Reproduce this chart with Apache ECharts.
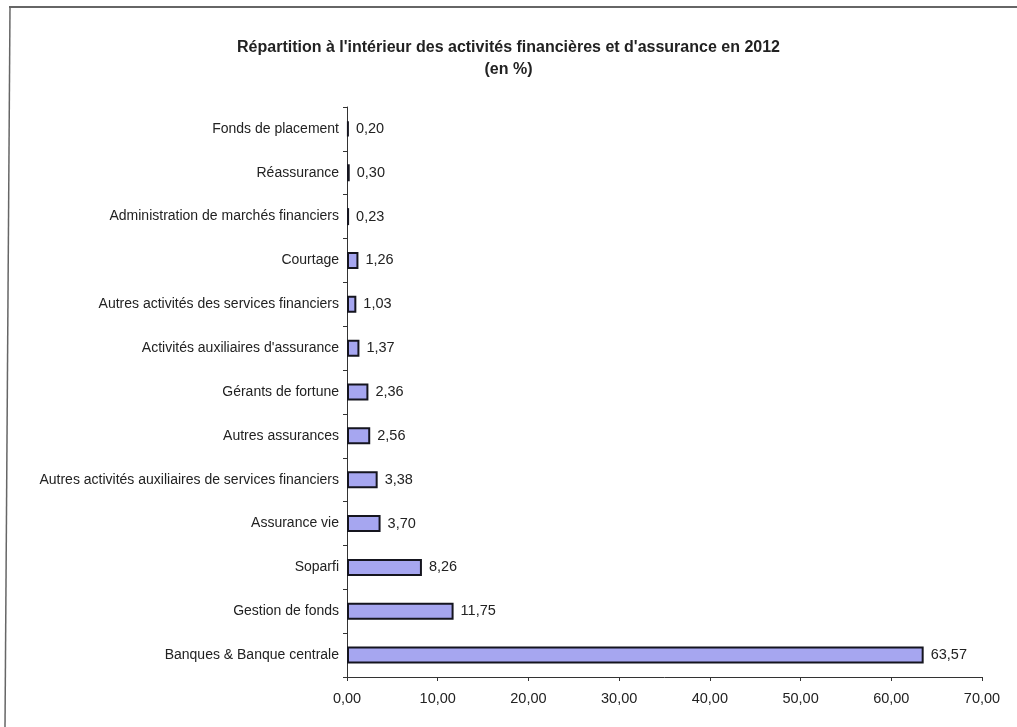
<!DOCTYPE html>
<html>
<head>
<meta charset="utf-8">
<script src="https://cdn.jsdelivr.net/npm/echarts@6/dist/echarts.min.js"></script>
<style>
html,body{margin:0;padding:0;background:#fff;}
#c{width:1017px;height:727px;}
</style>
</head>
<body>
<div id="c"></div>
<script>
const categories = [
  "Fonds de placement",
  "Réassurance",
  "Administration de marchés financiers",
  "Courtage",
  "Autres activités des services financiers",
  "Activités auxiliaires d'assurance",
  "Gérants de fortune",
  "Autres assurances",
  "Autres activités auxiliaires de services financiers",
  "Assurance vie",
  "Soparfi",
  "Gestion de fonds",
  "Banques & Banque centrale"
];
const values = [0.20, 0.30, 0.23, 1.26, 1.03, 1.37, 2.36, 2.56, 3.38, 3.70, 8.26, 11.75, 63.57];
const titleLines = ["Répartition à l'intérieur des activités financières et d'assurance en 2012", "(en %)"];

const fmt = v => v.toFixed(2).replace('.', ',');
const font = "'Liberation Sans', Arial, sans-serif";

const chart = echarts.init(document.getElementById('c'), null, {renderer: 'canvas'});
chart.setOption({
  animation: false,
  backgroundColor: '#fff',
  title: {
    text: titleLines.join('\n'),
    left: 'center',
    top: 32,
    textStyle: {fontFamily: font, fontSize: 16, fontWeight: 'bold', color: '#222', lineHeight: 22}
  },
  grid: {left: 347, right: 35, top: 107, bottom: 50, containLabel: false},
  xAxis: {
    type: 'value',
    min: 0, max: 70, interval: 10,
    axisLine: {show: true, lineStyle: {color: '#333', width: 1}},
    axisTick: {show: true, length: 4, lineStyle: {color: '#333'}},
    splitLine: {show: false},
    axisLabel: {fontFamily: font, fontSize: 14.5, color: '#222', margin: 14, formatter: v => fmt(v)}
  },
  yAxis: {
    type: 'category',
    data: categories,
    inverse: true,
    axisLine: {show: true, lineStyle: {color: '#333', width: 1}},
    axisTick: {show: true, length: 4, lineStyle: {color: '#333'}},
    axisLabel: {fontFamily: font, fontSize: 14, color: '#222', margin: 8}
  },
  series: [{
    type: 'bar',
    data: values,
    barWidth: 17,
    itemStyle: {color: '#a6a6f0', borderColor: '#15151f', borderWidth: 2},
    label: {
      show: true, position: 'right', distance: 7,
      fontFamily: font, fontSize: 14.5, color: '#222',
      formatter: p => fmt(p.value)
    }
  }],
  graphic: [
    {type: 'line', shape: {x1: 9, y1: 7, x2: 1017, y2: 7}, style: {stroke: '#333', lineWidth: 1.5}},
    {type: 'line', shape: {x1: 10, y1: 7, x2: 5, y2: 727}, style: {stroke: '#666', lineWidth: 1.5}}
  ]
});
</script>
</body>
</html>
